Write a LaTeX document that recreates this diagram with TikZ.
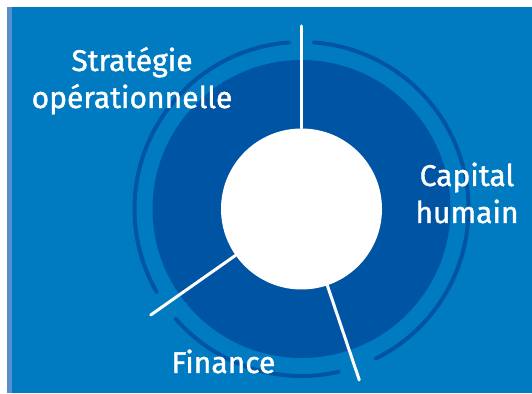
\documentclass[tikz,border=0pt]{standalone}
\usepackage{fontspec}
\setmainfont{Fira Sans}
\newfontfamily\lblfont{Fira Sans}[FakeBold=1.2]
\usetikzlibrary{positioning}

\definecolor{bgblue}{RGB}{0,123,193}
\definecolor{deepblue}{RGB}{0,84,164}
\definecolor{stripblue}{RGB}{85,144,205}

\begin{document}
\begin{tikzpicture}[x=1pt, y=1pt, spoke/.style={white, line width=3pt, line cap=round},
    ring/.style={deepblue, line width=4pt, line cap=round},
    lbl/.style={white, font=\lblfont\fontsize{30}{37}\selectfont, align=center, inner sep=0pt}]
    \useasboundingbox (0,0) rectangle (532,393);
    \fill[bgblue] (7.3,0) rectangle (532,386);
    \fill[stripblue] (7.3,0) rectangle (12,386);

    \coordinate (mid) at (301.5,184);
    \fill[deepblue] (mid) circle (149);
    \draw[ring] ([shift={(94.3:167)}]mid) arc[start angle=94.3, end angle=209.8, radius=167];
    \draw[ring] ([shift={(221.2:167)}]mid) arc[start angle=221.2, end angle=282.8, radius=167];
    \draw[ring] ([shift={(296.5:167)}]mid) arc[start angle=296.5, end angle=445.7, radius=167];

    \node[circle, fill=white, minimum size=161pt, inner sep=0pt] (hub) at (mid) {};
    \coordinate (tipN) at (301.5,367);
    \coordinate (tipSW) at (150.7,78);
    \coordinate (tipSE) at (359.3,13);
    \draw[spoke] (hub) -- (tipN);
    \draw[spoke] (hub) -- (tipSW);
    \draw[spoke] (hub) -- (tipSE);

    \node[lbl, anchor=base] (strat) at (132,285) {Stratégie\\opérationnelle};
    \node[lbl, anchor=base] (capital) at (467,170) {Capital\\humain};
    \node[lbl, anchor=base] (finance) at (223.5,20) {Finance};
\end{tikzpicture}
\end{document}
